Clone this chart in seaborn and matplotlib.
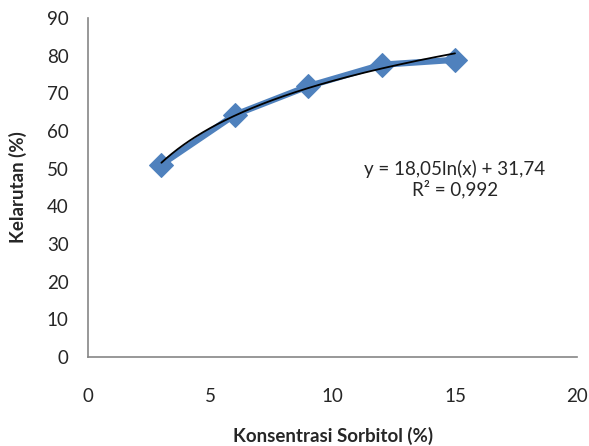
import numpy as np
import pandas as pd
import matplotlib
matplotlib.use('Agg')
import matplotlib.pyplot as plt
import seaborn as sns

# Data dari grafik
konsentrasi = [3, 6, 9, 12, 15]
kelarutan = [51.1, 64.3, 71.9, 77.6, 78.9]

# Koefisien trendline logaritmik
koef_a = 18.05
koef_b = 31.74

df = pd.DataFrame({'Konsentrasi': konsentrasi, 'Kelarutan': kelarutan})

sns.set_style('white')
plt.rcParams['font.family'] = ['Lato', 'DejaVu Sans']

fig = plt.figure(figsize=(5.89, 4.46), dpi=100)
ax = fig.add_axes([0.1494, 0.1996, 0.8308, 0.76])

sns.lineplot(data=df, x='Konsentrasi', y='Kelarutan', ax=ax, color='#4F81BD',
             linewidth=4.5, marker='D', markersize=12, markeredgecolor='#4F81BD')

xt = np.linspace(min(konsentrasi), max(konsentrasi), 200)
ax.plot(xt, koef_a * np.log(xt) + koef_b, color='black', linewidth=1.3)

ax.text(15.0, 47.3, 'y = 18,05ln(x) + 31,74\nR² = 0,992', ha='center', va='center',
        fontsize=13.5, linespacing=1.1)

ax.set_xlim(0, 20)
ax.set_ylim(0, 90)
ax.set_xticks(range(0, 21, 5))
ax.set_yticks(range(0, 91, 10))
ax.tick_params(axis='x', length=0, pad=22, labelsize=13.5)
ax.tick_params(axis='y', length=0, pad=14, labelsize=13.5)

for s in ['top', 'right']:
    ax.spines[s].set_visible(False)
for s in ['left', 'bottom']:
    ax.spines[s].set_color('#868686')
    ax.spines[s].set_linewidth(1.2)

ax.set_xlabel('Konsentrasi Sorbitol (%)', fontsize=13.5, fontweight='bold', labelpad=16)
ax.set_ylabel('Kelarutan (%)', fontsize=13.5, fontweight='bold', labelpad=14)

fig.savefig('out.png', dpi=100)
